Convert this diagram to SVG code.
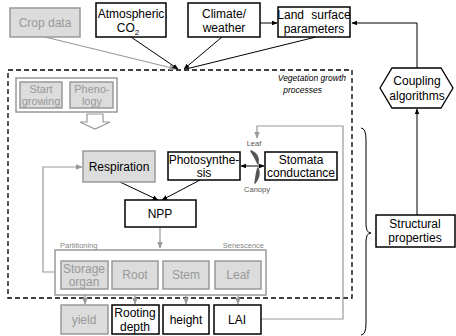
<svg xmlns="http://www.w3.org/2000/svg" width="456" height="336" viewBox="0 0 456 336">
<style>
text{font-family:"Liberation Sans",Arial,sans-serif;font-size:12px;text-anchor:middle;fill:#000}
.g rect,.gb{fill:#dcdcdc;stroke:#999;stroke-width:1.5}
.gt{fill:#999}
.b rect,.bb{fill:#fff;stroke:#000;stroke-width:1.5}
.small{font-size:7.5px;fill:#888}
.lbl{font-size:7.5px;fill:#555}
.it{font-size:8.5px;font-style:italic;text-anchor:end}
.ln{fill:none;stroke:#000;stroke-width:1}
.lg{fill:none;stroke:#999;stroke-width:1.2}
.ph{font-size:11px}
</style>
<defs>
<marker id="ab" viewBox="0 0 10 10" refX="9" refY="5" markerWidth="6" markerHeight="6" orient="auto"><path d="M0,1 L10,5 L0,9 Z" fill="#000"/></marker>
<marker id="ag" viewBox="0 0 10 10" refX="9" refY="5" markerWidth="6" markerHeight="6" orient="auto"><path d="M0,1 L10,5 L0,9 Z" fill="#999"/></marker>
<marker id="as" viewBox="0 0 10 10" refX="1" refY="5" markerWidth="6" markerHeight="6" orient="auto"><path d="M10,1 L0,5 L10,9 Z" fill="#000"/></marker>
</defs>

<rect x="8" y="70" width="344" height="228" fill="none" stroke="#000" stroke-width="1.3" stroke-dasharray="5,3"/>
<text class="it" x="346" y="81">Vegetation growth</text>
<text class="it" x="322" y="93">processes</text>

<g id="connectors">
<line class="lg" x1="45" y1="37" x2="176" y2="69" marker-end="url(#ag)"/>
<line class="ln" x1="131" y1="37" x2="178" y2="69" marker-end="url(#ab)"/>
<line class="ln" x1="222" y1="37" x2="184" y2="69" marker-end="url(#ab)"/>
<line class="ln" x1="316" y1="37" x2="186" y2="69"/>
<line class="ln" x1="260" y1="23" x2="277" y2="23" marker-end="url(#ab)"/>
<polyline class="ln" points="417,68 417,23 352,23" marker-end="url(#ab)"/>
<line class="ln" x1="417" y1="215" x2="417" y2="109" marker-end="url(#ab)"/>
<line class="lg" x1="62" y1="95" x2="69" y2="95" marker-end="url(#ag)"/>
<path d="M87,114 H103 V122 H110 L95,129 L80,122 H87 Z" fill="#fff" stroke="#999" stroke-width="1.2"/>
<line class="ln" x1="120" y1="182" x2="158" y2="200" marker-end="url(#ab)"/>
<line class="ln" x1="200" y1="180" x2="162" y2="200" marker-end="url(#ab)"/>
<line class="ln" x1="241" y1="166" x2="264" y2="166" marker-start="url(#as)" marker-end="url(#ab)"/>
<path d="M251,151 C257,153 259,158 258,164 C256,159 254,156 251,151 Z M258,168 C260,173 259,178 255,183 C256,178 256,173 258,168 Z" fill="#555" stroke="#555" stroke-width="1.5" stroke-linejoin="round"/>
<line class="lg" x1="160" y1="227" x2="160" y2="248" marker-end="url(#ag)"/>
<polyline class="lg" points="55,272 43,272 43,167 82,167" marker-end="url(#ag)"/>
<polyline class="lg" points="261,319 343,319 343,126 257,126 257,138" marker-end="url(#ag)"/>
<line class="lg" x1="85" y1="289" x2="85" y2="304" marker-end="url(#ag)"/>
<line class="lg" x1="135" y1="289" x2="135" y2="304" marker-end="url(#ag)"/>
<line class="lg" x1="186" y1="289" x2="186" y2="304" marker-end="url(#ag)"/>
<line class="lg" x1="238" y1="289" x2="238" y2="304" marker-end="url(#ag)"/>
<path class="ln" d="M361,128 Q366,128 366,140 L366,224 Q366,233 371,233 Q366,233 366,242 L366,323 Q366,335 361,335"/>
</g>

<g id="crop" class="g"><rect x="10" y="8" width="70" height="29"/><text class="gt" x="45" y="27">Crop data</text></g>
<g id="co2" class="b"><rect x="96" y="3" width="70" height="34"/><text x="131" y="18">Atmospheric</text><text x="128" y="32">CO<tspan font-size="8" dy="3">2</tspan></text></g>
<g id="climate" class="b"><rect x="188" y="3" width="72" height="34"/><text x="224" y="18">Climate/</text><text x="224" y="32">weather</text></g>
<g id="land" class="b"><rect x="278" y="7" width="72" height="30"/><text x="314" y="19" word-spacing="4">Land surface</text><text x="314" y="33">parameters</text></g>
<g id="coupling"><polygon points="380,88 392,68 441,68 453,88 441,108 392,108" fill="#fff" stroke="#000" stroke-width="1.3"/><text x="417" y="85">Coupling</text><text x="417" y="100">algorithms</text></g>
<g id="structural"><rect class="bb" x="376" y="215" width="79" height="32"/><text x="415" y="228">Structural</text><text x="415" y="242">properties</text></g>

<g id="pheno-group"><rect x="16" y="78" width="101" height="34" fill="#fff" stroke="#999" stroke-width="1.5"/></g>
<g id="start" class="g"><rect x="20" y="82" width="42" height="26"/><text class="gt ph" x="41" y="93">Start</text><text class="gt ph" x="41" y="105">growing</text></g>
<g id="phenology" class="g"><rect x="70" y="82" width="43" height="26"/><text class="gt ph" x="92" y="93">Pheno-</text><text class="gt ph" x="92" y="105">logy</text></g>

<g id="respiration" class="g"><rect x="83" y="151" width="72" height="31"/><text x="119" y="171">Respiration</text></g>
<g id="photosynthesis" class="b"><rect x="168" y="152" width="72" height="28"/><text x="204" y="164">Photosynthe-</text><text x="204" y="177">sis</text></g>
<text class="lbl" x="254" y="146">Leaf</text>
<text class="lbl" x="257" y="192">Canopy</text>
<g id="stomata" class="b"><rect x="265" y="152" width="72" height="28"/><text x="301" y="164">Stomata</text><text x="301" y="177">conductance</text></g>
<g id="npp" class="b"><rect x="125" y="200" width="71" height="27"/><text x="160" y="218">NPP</text></g>

<g id="partition"><rect x="55" y="250" width="211" height="45" fill="#fff" stroke="#999" stroke-width="1.5"/><text class="small" x="60" y="248" style="text-anchor:start">Partitioning</text><text class="small" x="264" y="248" style="text-anchor:end">Senescence</text></g>
<g id="storage" class="g"><rect x="61" y="261" width="47" height="28"/><text class="gt" x="84" y="273">Storage</text><text class="gt" x="84" y="286">organ</text></g>
<g id="root" class="g"><rect x="112" y="261" width="46" height="28"/><text class="gt" x="135" y="279">Root</text></g>
<g id="stem" class="g"><rect x="163" y="261" width="46" height="28"/><text class="gt" x="186" y="279">Stem</text></g>
<g id="leaf" class="g"><rect x="215" y="261" width="46" height="28"/><text class="gt" x="238" y="279">Leaf</text></g>

<g id="yield" class="g"><rect x="61" y="305" width="47" height="29"/><text class="gt" x="84" y="324">yield</text></g>
<g id="rooting" class="b"><rect x="112" y="305" width="47" height="29"/><text x="135" y="317">Rooting</text><text x="135" y="331">depth</text></g>
<g id="height" class="b"><rect x="163" y="305" width="46" height="29"/><text x="186" y="324">height</text></g>
<g id="lai" class="b"><rect x="214" y="305" width="47" height="29"/><text x="237" y="324">LAI</text></g>
</svg>
